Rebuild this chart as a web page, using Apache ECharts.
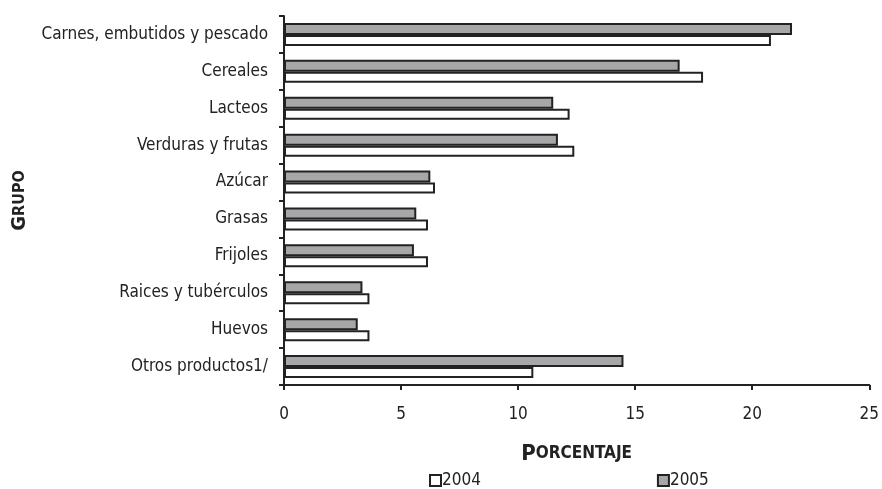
<!DOCTYPE html>
<html><head><meta charset="utf-8">
<script src="https://cdn.jsdelivr.net/npm/echarts@6/dist/echarts.min.js"></script>
<style>html,body{margin:0;padding:0;background:#fff}#c{width:882px;height:489px}</style>
</head><body><div id="c"></div>
<script>
const categories = ["Carnes, embutidos y pescado","Cereales","Lacteos","Verduras y frutas","Azúcar","Grasas","Frijoles","Raices y tubérculos","Huevos","Otros productos1/"];
const values2004 = [20.8, 17.9, 12.2, 12.4, 6.45, 6.15, 6.15, 3.65, 3.65, 10.65];
const values2005 = [21.7, 16.9, 11.5, 11.7, 6.25, 5.65, 5.55, 3.35, 3.15, 14.5];
const xTicks = {min: 0, max: 25, interval: 5};

const FONT = "DejaVu Sans Condensed";
const chart = echarts.init(document.getElementById('c'), null, {renderer: 'canvas'});
chart.setOption({
  animation: false,
  backgroundColor: '#fff',
  textStyle: {fontFamily: FONT, color: '#222'},
  grid: {left: 284, right: 12, top: 16, bottom: 104, containLabel: false},
  legend: {
    top: 467, left: 424, itemGap: 176, itemWidth: 11, itemHeight: 11,
    icon: 'rect',
    textStyle: {fontFamily: FONT, fontSize: 17, color: '#222', padding: [0,0,0,-4]},
    data: ['2004', '2005']
  },
  xAxis: {
    type: 'value', min: xTicks.min, max: xTicks.max, interval: xTicks.interval,
    splitLine: {show: false},
    axisLine: {show: true, lineStyle: {color: '#222', width: 2}},
    axisTick: {show: true, length: 5, lineStyle: {color: '#222', width: 2}},
    axisLabel: {fontFamily: FONT, fontSize: 17, color: '#222', margin: 21},
    name: '{a|P}{b|ORCENTAJE}', nameLocation: 'middle', nameGap: 58,
    nameTextStyle: {rich: {
      a: {fontFamily: FONT, fontSize: 22, fontWeight: 'bold', color: '#222'},
      b: {fontFamily: FONT, fontSize: 17, fontWeight: 'bold', color: '#222'}
    }}
  },
  yAxis: {
    type: 'category', data: categories, inverse: true,
    axisLine: {show: true, lineStyle: {color: '#222', width: 2}},
    axisTick: {show: true, length: 5, lineStyle: {color: '#222', width: 2}},
    axisLabel: {fontFamily: FONT, fontSize: 17, color: '#222', margin: 16},
    name: '{a|G}{b|RUPO}', nameLocation: 'middle', nameGap: 254, nameRotate: 90,
    nameTextStyle: {rich: {
      a: {fontFamily: FONT, fontSize: 20, fontWeight: 'bold', color: '#222'},
      b: {fontFamily: FONT, fontSize: 16, fontWeight: 'bold', color: '#222'}
    }}
  },
  series: [
    {name: '2005', type: 'bar', data: values2005, barWidth: 12, barGap: '0%', barCategoryGap: '30%',
     itemStyle: {color: '#a7a7a9', borderColor: '#222', borderWidth: 2}},
    {name: '2004', type: 'bar', data: values2004, barWidth: 11, barGap: '0%',
     itemStyle: {color: '#ffffff', borderColor: '#222', borderWidth: 2}}
  ]
});
</script></body></html>
